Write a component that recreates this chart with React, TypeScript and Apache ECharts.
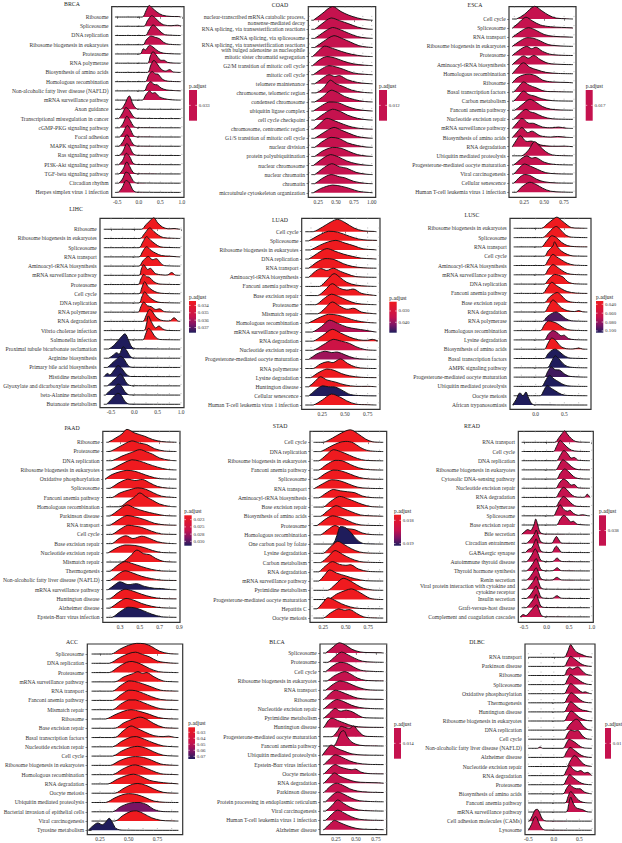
import React, { useEffect, useRef } from "react";
import * as echarts from "echarts";

const FONT = "'Liberation Serif', 'Times New Roman', serif";

// ---------------- DATA ----------------
const BRCA_TERMS = ["Ribosome","Spliceosome","DNA replication","Ribosome biogenesis in eukaryotes","Proteasome","RNA polymerase","Biosynthesis of amino acids","Homologous recombination","Non-alcoholic fatty liver disease (NAFLD)","mRNA surveillance pathway","Axon guidance","Transcriptional misregulation in cancer","cGMP-PKG signaling pathway","Focal adhesion","MAPK signaling pathway","Ras signaling pathway","PI3K-Akt signaling pathway","TGF-beta signaling pathway","Circadian rhythm","Herpes simplex virus 1 infection"];
const BRCA_PADJ = 0.033;
const BRCA_RIDGES = [
  [0.08,0, 0.17,0.7, 0.24,1.25, 0.32,0.95, 0.42,0.55, 0.55,0.2, 0.75,0.06, 0.92,0.05],
  [0.12,0, 0.2,0.6, 0.3,1.15, 0.38,0.9, 0.48,0.45, 0.58,0.15, 0.75,0.06, 0.9,0.12, 0.98,0.02],
  [0.15,0, 0.24,0.6, 0.33,1.15, 0.42,0.8, 0.52,0.35, 0.62,0.08],
  [0.1,0, 0.17,0.5, 0.28,0.95, 0.38,0.8, 0.48,0.65, 0.58,0.25, 0.7,0.05],
  [0.03,0, 0.1,0.55, 0.16,0.45, 0.25,0.95, 0.33,0.75, 0.45,0.3, 0.58,0.08],
  [0.2,0, 0.27,0.8, 0.33,1.25, 0.4,0.9, 0.5,0.35, 0.6,0.3, 0.66,0.1, 0.8,0.02],
  [0.2,0, 0.28,0.8, 0.35,1.3, 0.43,0.9, 0.52,0.35, 0.62,0.15, 0.72,0.3, 0.8,0.05],
  [0.15,0, 0.23,0.7, 0.31,1.1, 0.38,0.85, 0.45,0.8, 0.55,0.25, 0.7,0.04],
  [0.12,0, 0.2,0.65, 0.28,1.0, 0.35,0.7, 0.43,0.65, 0.52,0.3, 0.65,0.1, 0.8,0.04],
  [0.08,0, 0.16,0.55, 0.25,1.0, 0.31,0.75, 0.38,0.8, 0.48,0.35, 0.6,0.15, 0.75,0.04],
  [-0.42,0, -0.34,0.45, -0.22,1.45, -0.14,0.6, -0.06,0.1, 0.05,0.02],
  [-0.47,0, -0.39,0.5, -0.3,1.2, -0.22,0.9, -0.14,0.3, -0.05,0.03],
  [-0.45,0, -0.37,0.45, -0.28,1.25, -0.2,0.8, -0.12,0.15, -0.03,0.02],
  [-0.45,0, -0.36,0.5, -0.27,1.25, -0.2,0.85, -0.12,0.15, -0.03,0.02],
  [-0.46,0, -0.37,0.5, -0.28,1.25, -0.21,0.85, -0.13,0.2, -0.03,0.02],
  [-0.46,0, -0.37,0.45, -0.28,1.3, -0.21,0.9, -0.13,0.2, -0.03,0.02],
  [-0.47,0, -0.38,0.45, -0.29,1.25, -0.21,0.85, -0.13,0.15, -0.03,0.02],
  [-0.46,0, -0.37,0.5, -0.28,1.3, -0.21,0.8, -0.13,0.15, -0.03,0.02],
  [-0.47,0, -0.38,0.45, -0.3,1.2, -0.22,1.0, -0.14,0.3, -0.05,0.03],
  [-0.48,0, -0.39,0.5, -0.3,1.3, -0.22,1.05, -0.15,0.35, -0.06,0.03],
];

const COAD_TERMS = ["nuclear-transcribed mRNA catabolic process,\nnonsense-mediated decay","RNA splicing, via transesterification reactions","mRNA splicing, via spliceosome","RNA splicing, via transesterification reactions\nwith bulged adenosine as nucleophile","mitotic sister chromatid segregation","G2/M transition of mitotic cell cycle","mitotic cell cycle","telomere maintenance","chromosome, telomeric region","condensed chromosome","ubiquitin ligase complex","cell cycle checkpoint","chromosome, centromeric region","G1/S transition of mitotic cell cycle","nuclear division","protein polyubiquitination","nuclear chromosome","nuclear chromatin","chromatin","microtubule cytoskeleton organization"];
const COAD_PADJ = 0.012;
const COAD_RIDGES = [
  [0.18,0, 0.3,0.7, 0.45,1.5, 0.57,0.95, 0.68,0.55, 0.8,0.25, 0.92,0.06],
  [0.2,0, 0.3,0.6, 0.43,1.25, 0.55,0.95, 0.68,0.6, 0.8,0.25, 0.92,0.05],
  [0.2,0, 0.31,0.6, 0.45,1.2, 0.56,0.95, 0.68,0.55, 0.8,0.2, 0.92,0.05],
  [0.2,0, 0.32,0.65, 0.47,1.3, 0.58,1.0, 0.7,0.6, 0.82,0.2, 0.93,0.05],
  [0.17,0, 0.25,0.6, 0.34,1.15, 0.45,0.9, 0.58,0.55, 0.72,0.25, 0.88,0.05],
  [0.17,0, 0.26,0.6, 0.37,1.0, 0.48,0.85, 0.6,0.5, 0.74,0.2, 0.9,0.05],
  [0.18,0, 0.28,0.55, 0.4,1.0, 0.5,0.85, 0.6,0.6, 0.74,0.2, 0.9,0.05],
  [0.2,0, 0.3,0.55, 0.4,1.0, 0.48,0.8, 0.55,0.9, 0.66,0.45, 0.8,0.15, 0.92,0.04],
  [0.22,0, 0.32,0.5, 0.42,1.4, 0.5,1.0, 0.6,0.7, 0.72,0.3, 0.88,0.06],
  [0.2,0, 0.31,0.55, 0.43,1.3, 0.52,1.05, 0.62,0.6, 0.76,0.25, 0.9,0.05],
  [0.18,0, 0.28,0.5, 0.4,1.0, 0.52,0.95, 0.64,0.55, 0.78,0.2, 0.92,0.05],
  [0.2,0, 0.3,0.55, 0.45,1.2, 0.56,0.95, 0.66,0.55, 0.8,0.2, 0.92,0.05],
  [0.18,0, 0.27,0.6, 0.37,1.2, 0.47,0.95, 0.6,0.55, 0.74,0.2, 0.9,0.04],
  [0.2,0, 0.32,0.6, 0.47,1.2, 0.57,0.9, 0.68,0.55, 0.8,0.2, 0.92,0.05],
  [0.2,0, 0.3,0.6, 0.43,1.1, 0.55,0.95, 0.66,0.5, 0.8,0.2, 0.92,0.04],
  [0.2,0, 0.3,0.55, 0.45,1.0, 0.57,0.9, 0.68,0.55, 0.8,0.2, 0.92,0.05],
  [0.18,0, 0.28,0.6, 0.42,1.2, 0.53,0.95, 0.65,0.5, 0.78,0.2, 0.92,0.04],
  [0.2,0, 0.3,0.6, 0.44,1.2, 0.55,0.85, 0.65,0.7, 0.78,0.25, 0.92,0.05],
  [0.2,0, 0.3,0.55, 0.43,1.0, 0.55,0.75, 0.62,0.65, 0.75,0.25, 0.9,0.05],
  [0.18,0, 0.28,0.45, 0.45,0.85, 0.58,0.7, 0.7,0.45, 0.82,0.15, 0.95,0.04],
];

const ESCA_TERMS = ["Cell cycle","Spliceosome","RNA transport","Ribosome biogenesis in eukaryotes","Proteasome","Aminoacyl-tRNA biosynthesis","Homologous recombination","Ribosome","Basal transcription factors","Carbon metabolism","Fanconi anemia pathway","Nucleotide excision repair","mRNA surveillance pathway","Biosynthesis of amino acids","RNA degradation","Ubiquitin mediated proteolysis","Progesterone-mediated oocyte maturation","Viral carcinogenesis","Cellular senescence","Human T-cell leukemia virus 1 infection"];
const ESCA_PADJ = 0.017;
const ESCA_RIDGES = [
  [0.15,0, 0.25,0.5, 0.38,1.4, 0.47,0.9, 0.56,0.4, 0.65,0.1, 0.78,0.03],
  [0.1,0, 0.17,0.5, 0.27,1.2, 0.35,0.8, 0.45,0.35, 0.58,0.15, 0.72,0.08, 0.85,0.03],
  [0.1,0, 0.18,0.5, 0.3,1.05, 0.4,0.75, 0.5,0.3, 0.62,0.1, 0.8,0.03],
  [0.1,0, 0.18,0.5, 0.28,0.95, 0.36,0.9, 0.45,0.6, 0.55,0.2, 0.7,0.05],
  [0.1,0, 0.18,0.55, 0.28,1.0, 0.34,0.75, 0.4,0.9, 0.48,0.45, 0.6,0.1],
  [0.1,0, 0.17,0.55, 0.24,0.95, 0.3,0.7, 0.37,1.0, 0.45,0.55, 0.55,0.15, 0.7,0.03],
  [0.1,0, 0.17,0.7, 0.24,1.2, 0.32,0.7, 0.42,0.4, 0.52,0.15, 0.68,0.03],
  [0.1,0, 0.16,0.55, 0.25,0.9, 0.32,0.95, 0.4,0.75, 0.48,0.3, 0.6,0.1, 0.8,0.04],
  [0.12,0, 0.18,0.6, 0.24,1.1, 0.31,0.75, 0.4,0.45, 0.5,0.1, 0.65,0.03],
  [0.12,0, 0.18,0.6, 0.24,1.1, 0.31,0.7, 0.38,0.55, 0.47,0.25, 0.6,0.05],
  [0.13,0, 0.22,0.6, 0.32,1.2, 0.4,0.85, 0.48,0.4, 0.58,0.12, 0.7,0.03],
  [0.12,0, 0.19,0.6, 0.27,1.1, 0.33,0.8, 0.38,0.7, 0.48,0.3, 0.6,0.06],
  [0.1,0, 0.16,0.6, 0.22,1.1, 0.3,0.6, 0.37,0.55, 0.48,0.15, 0.6,0.08, 0.68,0.15, 0.78,0.03],
  [0.1,0, 0.16,0.6, 0.22,1.1, 0.29,0.55, 0.35,0.7, 0.45,0.2, 0.58,0.06, 0.67,0.12, 0.78,0.03],
  [0.1,0, 0.15,0.7, 0.2,1.2, 0.27,0.6, 0.35,0.6, 0.45,0.2, 0.6,0.05, 0.75,0.06],
  [0.22,0, 0.3,0.6, 0.38,1.55, 0.45,1.0, 0.52,0.45, 0.6,0.1, 0.72,0.02],
  [0.12,0, 0.2,0.6, 0.28,1.0, 0.34,0.75, 0.4,0.8, 0.5,0.3, 0.62,0.06],
  [0.12,0, 0.18,0.6, 0.25,1.1, 0.33,0.85, 0.42,0.5, 0.52,0.15, 0.65,0.03],
  [0.12,0, 0.18,0.55, 0.25,0.95, 0.32,0.85, 0.4,0.45, 0.5,0.15, 0.65,0.03],
  [0.15,0, 0.22,0.6, 0.32,1.1, 0.4,0.85, 0.48,0.45, 0.58,0.12, 0.72,0.03],
];

const LIHC_TERMS = ["Ribosome","Ribosome biogenesis in eukaryotes","Spliceosome","RNA transport","Aminoacyl-tRNA biosynthesis","mRNA surveillance pathway","Proteasome","Cell cycle","DNA replication","RNA polymerase","RNA degradation","Vibrio cholerae infection","Salmonella infection","Proximal tubule bicarbonate reclamation","Arginine biosynthesis","Primary bile acid biosynthesis","Histidine metabolism","Glyoxylate and dicarboxylate metabolism","beta-Alanine metabolism","Butanoate metabolism"];
const LIHC_PADJ = [0.0334,0.0334,0.0334,0.0334,0.0334,0.0334,0.0334,0.0334,0.0334,0.0334,0.0334,0.0334,0.0334,0.0377,0.0377,0.0377,0.0377,0.0377,0.0377,0.0377];
const LIHC_RIDGES = [
  [0.15,0, 0.25,0.5, 0.35,1.0, 0.42,1.25, 0.5,0.7, 0.6,0.25, 0.72,0.05, 0.85,0.08, 0.95,0.02],
  [0.12,0, 0.22,0.55, 0.33,1.15, 0.42,0.75, 0.52,0.35, 0.62,0.1, 0.8,0.03],
  [0.1,0, 0.18,0.6, 0.26,1.2, 0.35,0.8, 0.45,0.4, 0.55,0.1, 0.7,0.03],
  [0.1,0, 0.18,0.6, 0.26,1.1, 0.36,0.7, 0.46,0.4, 0.58,0.15, 0.75,0.08, 0.9,0.02],
  [0.1,0, 0.18,0.55, 0.3,1.05, 0.38,0.7, 0.48,0.8, 0.56,0.35, 0.65,0.05],
  [0.1,0, 0.15,0.7, 0.2,1.15, 0.28,0.65, 0.35,0.75, 0.45,0.2, 0.6,0.05, 0.72,0.05, 0.8,0.3, 0.88,0.03],
  [0.08,0, 0.14,0.6, 0.2,1.1, 0.26,0.85, 0.32,0.8, 0.42,0.3, 0.55,0.05],
  [0.1,0, 0.16,0.65, 0.22,1.3, 0.29,0.8, 0.38,0.4, 0.5,0.12, 0.65,0.03],
  [0.1,0, 0.16,0.65, 0.22,1.2, 0.3,0.75, 0.38,0.4, 0.5,0.1, 0.65,0.03],
  [0.08,0, 0.14,0.6, 0.2,1.1, 0.28,0.7, 0.36,0.6, 0.45,0.3, 0.55,0.35, 0.65,0.05],
  [0.18,0, 0.25,0.6, 0.32,1.3, 0.38,1.1, 0.46,0.5, 0.56,0.15, 0.68,0.05, 0.78,0.1, 0.85,0.4, 0.93,0.05],
  [0.2,0, 0.26,0.7, 0.3,1.6, 0.36,1.0, 0.45,0.3, 0.53,0.5, 0.6,0.2, 0.7,0.02],
  [0.18,0, 0.24,0.6, 0.3,1.25, 0.36,1.0, 0.42,0.5, 0.5,0.1, 0.6,0.02],
  [-0.55,0, -0.42,0.5, -0.3,1.2, -0.2,1.65, -0.12,0.9, -0.05,0.2, 0.05,0.02],
  [-0.55,0, -0.45,0.35, -0.38,0.6, -0.32,0.45, -0.24,1.25, -0.16,0.8, -0.08,0.15, 0.0,0.02],
  [-0.58,0, -0.48,0.45, -0.38,0.9, -0.3,1.2, -0.22,0.9, -0.14,0.25, -0.05,0.02],
  [-0.65,0, -0.58,0.35, -0.52,0.2, -0.42,0.8, -0.35,1.2, -0.27,0.9, -0.18,0.3, -0.08,0.02],
  [-0.58,0, -0.48,0.45, -0.38,0.9, -0.3,1.3, -0.23,0.85, -0.15,0.2, -0.06,0.02],
  [-0.62,0, -0.52,0.5, -0.43,0.8, -0.35,1.2, -0.28,1.0, -0.2,0.35, -0.1,0.02],
  [-0.6,0, -0.5,0.5, -0.42,0.95, -0.35,1.2, -0.27,0.9, -0.2,0.3, -0.1,0.02],
];

const LUAD_TERMS = ["Cell cycle","Spliceosome","Ribosome biogenesis in eukaryotes","DNA replication","RNA transport","Aminoacyl-tRNA biosynthesis","Fanconi anemia pathway","Base excision repair","Proteasome","Mismatch repair","Homologous recombination","mRNA surveillance pathway","RNA degradation","Nucleotide excision repair","Progesterone-mediated oocyte maturation","RNA polymerase","Lysine degradation","Huntington disease","Cellular senescence","Human T-cell leukemia virus 1 infection"];
const LUAD_PADJ = [0.0218,0.0218,0.0218,0.0218,0.0218,0.0218,0.0218,0.0218,0.0218,0.0218,0.0218,0.037,0.0218,0.033,0.039,0.0218,0.0218,0.0218,0.0492,0.0218];
const LUAD_RIDGES = [
  [0.15,0, 0.25,0.5, 0.35,1.1, 0.42,1.35, 0.5,1.0, 0.6,0.4, 0.7,0.1, 0.82,0.03],
  [0.1,0, 0.2,0.55, 0.32,1.05, 0.42,0.95, 0.55,0.5, 0.65,0.2, 0.75,0.08, 0.85,0.05],
  [0.12,0, 0.22,0.5, 0.32,0.9, 0.4,1.05, 0.5,0.75, 0.6,0.45, 0.7,0.12, 0.82,0.03],
  [0.1,0, 0.2,0.65, 0.3,1.15, 0.38,0.9, 0.48,0.55, 0.58,0.3, 0.68,0.1, 0.8,0.03],
  [0.1,0, 0.18,0.6, 0.28,1.05, 0.38,0.95, 0.48,0.5, 0.58,0.2, 0.7,0.05],
  [0.1,0, 0.16,0.55, 0.23,0.95, 0.3,0.75, 0.37,1.0, 0.45,0.65, 0.53,0.35, 0.62,0.08],
  [0.22,0, 0.3,0.7, 0.38,1.4, 0.45,0.95, 0.52,0.45, 0.62,0.15, 0.75,0.03],
  [0.2,0, 0.28,0.6, 0.36,1.3, 0.44,0.8, 0.52,0.6, 0.6,0.7, 0.68,0.25, 0.8,0.05],
  [0.18,0, 0.26,0.6, 0.35,1.15, 0.43,0.9, 0.52,0.5, 0.62,0.15, 0.75,0.03],
  [0.2,0, 0.28,0.6, 0.36,1.3, 0.44,0.85, 0.52,0.5, 0.6,0.6, 0.68,0.2, 0.8,0.03],
  [0.1,0, 0.2,0.5, 0.32,0.95, 0.42,0.85, 0.52,0.55, 0.62,0.25, 0.75,0.05],
  [0.14,0, 0.24,0.6, 0.33,1.3, 0.42,0.95, 0.52,0.55, 0.62,0.35, 0.72,0.2, 0.82,0.03],
  [0.15,0, 0.25,0.6, 0.36,1.3, 0.45,0.9, 0.55,0.45, 0.65,0.15, 0.75,0.1, 0.8,0.2, 0.86,0.03],
  [0.15,0, 0.26,0.6, 0.37,1.2, 0.46,1.0, 0.55,0.75, 0.62,0.4, 0.72,0.08],
  [0.1,0, 0.18,0.55, 0.28,0.9, 0.35,0.75, 0.42,0.8, 0.5,0.5, 0.6,0.15, 0.72,0.03],
  [0.15,0, 0.23,0.5, 0.31,0.75, 0.37,0.65, 0.45,1.05, 0.53,0.55, 0.62,0.15, 0.72,0.03],
  [0.12,0, 0.2,0.5, 0.3,0.95, 0.38,0.8, 0.46,0.45, 0.55,0.2, 0.68,0.04],
  [0.1,0, 0.17,0.6, 0.23,1.1, 0.3,0.75, 0.4,0.5, 0.5,0.2, 0.62,0.05, 0.75,0.05],
  [0.1,0, 0.17,0.6, 0.25,1.1, 0.32,1.0, 0.4,0.95, 0.48,0.55, 0.56,0.15, 0.68,0.03],
  [0.15,0, 0.25,0.55, 0.35,1.2, 0.44,0.9, 0.52,0.45, 0.62,0.1, 0.75,0.03],
];

const LUSC_TERMS = ["Ribosome biogenesis in eukaryotes","Spliceosome","RNA transport","Cell cycle","Aminoacyl-tRNA biosynthesis","mRNA surveillance pathway","DNA replication","Fanconi anemia pathway","Base excision repair","RNA degradation","RNA polymerase","Homologous recombination","Lysine degradation","Biosynthesis of amino acids","Basal transcription factors","AMPK signaling pathway","Progesterone-mediated oocyte maturation","Ubiquitin mediated proteolysis","Oocyte meiosis","African trypanosomiasis"];
const LUSC_PADJ = [0.0326,0.0326,0.0326,0.0326,0.0326,0.0326,0.0326,0.0326,0.0326,0.0326,0.095,0.0326,0.078,0.0326,0.104,0.104,0.098,0.104,0.104,0.104];
const LUSC_RIDGES = [
  [0.1,0, 0.2,0.45, 0.3,0.95, 0.37,1.2, 0.45,0.85, 0.55,0.35, 0.62,0.08, 0.75,0.02],
  [0.12,0, 0.22,0.5, 0.3,1.0, 0.36,1.2, 0.44,0.8, 0.52,0.3, 0.62,0.05],
  [0.1,0, 0.18,0.55, 0.28,1.2, 0.36,1.0, 0.45,0.5, 0.55,0.15, 0.68,0.03],
  [0.15,0, 0.22,0.6, 0.3,1.1, 0.33,1.55, 0.38,1.0, 0.45,0.55, 0.55,0.2, 0.65,0.03],
  [0.15,0, 0.22,0.6, 0.3,1.2, 0.37,0.9, 0.45,0.6, 0.55,0.25, 0.68,0.04],
  [0.15,0, 0.22,0.6, 0.3,1.1, 0.37,0.85, 0.45,0.5, 0.55,0.15, 0.68,0.03],
  [0.15,0, 0.23,0.55, 0.33,1.05, 0.4,0.95, 0.48,0.75, 0.56,0.25, 0.68,0.03],
  [0.12,0, 0.2,0.6, 0.28,1.2, 0.36,0.85, 0.45,0.5, 0.55,0.2, 0.7,0.04],
  [0.15,0, 0.24,0.6, 0.33,1.0, 0.38,1.1, 0.46,0.7, 0.55,0.2, 0.68,0.03],
  [0.15,0, 0.22,0.6, 0.3,1.3, 0.37,0.95, 0.45,0.45, 0.55,0.15, 0.68,0.05, 0.75,0.15, 0.82,0.02],
  [0.12,0, 0.2,0.5, 0.3,0.9, 0.36,1.0, 0.44,0.7, 0.52,0.3, 0.62,0.06],
  [0.08,0, 0.15,0.6, 0.22,1.05, 0.3,0.95, 0.38,0.75, 0.46,0.4, 0.55,0.12, 0.68,0.03],
  [0.15,0, 0.22,0.6, 0.3,1.0, 0.37,0.8, 0.44,0.45, 0.5,0.5, 0.57,0.15, 0.68,0.03],
  [0.15,0, 0.21,0.6, 0.28,1.2, 0.35,0.95, 0.42,0.4, 0.5,0.1, 0.65,0.03, 0.75,0.12, 0.82,0.02],
  [0.15,0, 0.22,0.55, 0.3,0.95, 0.35,1.0, 0.42,0.7, 0.5,0.3, 0.6,0.05],
  [0.2,0, 0.27,0.6, 0.34,1.3, 0.4,1.0, 0.47,0.5, 0.55,0.15, 0.68,0.03],
  [0.15,0, 0.21,0.6, 0.27,1.1, 0.34,0.8, 0.42,0.75, 0.5,0.35, 0.6,0.08],
  [0.1,0, 0.17,0.6, 0.24,1.2, 0.32,0.8, 0.4,0.5, 0.5,0.15, 0.62,0.03],
  [0.08,0, 0.14,0.55, 0.2,1.1, 0.27,0.8, 0.35,0.5, 0.45,0.15, 0.55,0.03],
  [-0.4,0, -0.34,0.6, -0.28,1.3, -0.22,1.0, -0.17,1.4, -0.12,0.7, -0.06,0.1, 0.02,0.02],
];

const PAAD_TERMS = ["Ribosome","Proteasome","DNA replication","Ribosome biogenesis in eukaryotes","Oxidative phosphorylation","Spliceosome","Fanconi anemia pathway","Homologous recombination","Parkinson disease","RNA transport","Cell cycle","Base excision repair","Nucleotide excision repair","Mismatch repair","Thermogenesis","Non-alcoholic fatty liver disease (NAFLD)","mRNA surveillance pathway","Huntington disease","Alzheimer disease","Epstein-Barr virus infection"];
const PAAD_PADJ = [0.021,0.021,0.021,0.021,0.021,0.021,0.021,0.021,0.021,0.021,0.021,0.021,0.021,0.021,0.021,0.021,0.0315,0.021,0.021,0.0315];
const PAAD_RIDGES = [
  [0.18,0, 0.27,0.55, 0.32,0.9, 0.37,1.4, 0.45,1.0, 0.55,0.65, 0.63,0.3, 0.72,0.08, 0.82,0.02],
  [0.2,0, 0.3,0.55, 0.42,1.15, 0.5,0.9, 0.57,0.75, 0.65,0.3, 0.75,0.05],
  [0.22,0, 0.32,0.5, 0.42,0.9, 0.5,1.2, 0.57,0.95, 0.63,0.7, 0.7,0.3, 0.8,0.05],
  [0.2,0, 0.3,0.55, 0.42,1.1, 0.5,0.95, 0.58,0.65, 0.68,0.3, 0.78,0.05],
  [0.15,0, 0.22,0.5, 0.3,0.8, 0.37,0.95, 0.45,0.85, 0.52,0.6, 0.6,0.3, 0.7,0.05],
  [0.2,0, 0.28,0.55, 0.38,1.0, 0.45,0.85, 0.53,0.95, 0.6,0.6, 0.68,0.2, 0.78,0.03],
  [0.22,0, 0.3,0.5, 0.4,0.85, 0.48,1.05, 0.56,0.9, 0.64,0.5, 0.72,0.15, 0.82,0.03],
  [0.3,0, 0.38,0.6, 0.44,1.0, 0.5,1.5, 0.56,1.1, 0.63,0.7, 0.7,0.3, 0.8,0.04],
  [0.2,0, 0.28,0.6, 0.37,1.2, 0.45,0.85, 0.55,0.5, 0.65,0.25, 0.75,0.05],
  [0.2,0, 0.28,0.55, 0.37,1.05, 0.45,0.9, 0.55,0.6, 0.65,0.2, 0.75,0.04],
  [0.22,0, 0.3,0.55, 0.38,1.0, 0.45,0.9, 0.52,0.75, 0.62,0.35, 0.72,0.05],
  [0.22,0, 0.29,0.55, 0.36,0.85, 0.43,0.55, 0.52,0.8, 0.6,0.55, 0.68,0.2, 0.78,0.03],
  [0.18,0, 0.26,0.5, 0.35,0.85, 0.45,0.8, 0.55,0.55, 0.63,0.25, 0.72,0.04],
  [0.32,0, 0.4,0.6, 0.47,1.3, 0.54,0.9, 0.6,0.8, 0.66,0.4, 0.75,0.05],
  [0.2,0, 0.27,0.6, 0.35,1.05, 0.42,0.85, 0.52,0.5, 0.62,0.2, 0.72,0.04],
  [0.2,0, 0.27,0.6, 0.35,1.05, 0.43,0.8, 0.52,0.45, 0.62,0.2, 0.72,0.04],
  [0.18,0, 0.25,0.55, 0.3,0.85, 0.38,0.55, 0.47,0.65, 0.55,0.35, 0.65,0.15, 0.72,0.12, 0.8,0.02],
  [0.2,0, 0.27,0.6, 0.35,1.05, 0.43,0.85, 0.52,0.5, 0.62,0.2, 0.72,0.04],
  [0.2,0, 0.28,0.6, 0.36,1.05, 0.44,0.85, 0.52,0.5, 0.62,0.2, 0.72,0.04],
  [0.22,0, 0.3,0.6, 0.38,1.1, 0.46,1.0, 0.54,0.7, 0.62,0.35, 0.72,0.06],
];

const STAD_TERMS = ["Cell cycle","DNA replication","Ribosome biogenesis in eukaryotes","Fanconi anemia pathway","Spliceosome","RNA transport","Aminoacyl-tRNA biosynthesis","Base excision repair","Biosynthesis of amino acids","Proteasome","Homologous recombination","One carbon pool by folate","Lysine degradation","Carbon metabolism","RNA degradation","mRNA surveillance pathway","Pyrimidine metabolism","Progesterone-mediated oocyte maturation","Hepatitis C","Oocyte meiosis"];
const STAD_PADJ = [0.01776,0.01776,0.01776,0.01776,0.01776,0.01776,0.01776,0.01776,0.01776,0.01776,0.01776,0.01909,0.01776,0.01776,0.01776,0.01776,0.01776,0.01776,0.01776,0.01776];
const STAD_RIDGES = [
  [0.25,0, 0.35,0.45, 0.45,1.0, 0.55,1.35, 0.63,0.95, 0.72,0.35, 0.8,0.05],
  [0.22,0, 0.32,0.5, 0.42,0.95, 0.5,1.1, 0.58,0.95, 0.66,0.45, 0.75,0.1],
  [0.2,0, 0.28,0.6, 0.36,1.2, 0.44,1.0, 0.54,0.6, 0.63,0.25, 0.72,0.05],
  [0.2,0, 0.28,0.55, 0.38,1.05, 0.46,1.0, 0.55,0.6, 0.64,0.25, 0.75,0.05],
  [0.18,0, 0.26,0.55, 0.36,1.0, 0.45,0.9, 0.55,0.55, 0.65,0.2, 0.75,0.05],
  [0.15,0, 0.24,0.5, 0.34,0.95, 0.43,0.85, 0.53,0.5, 0.63,0.15, 0.75,0.03],
  [0.2,0, 0.28,0.5, 0.36,0.9, 0.44,0.75, 0.52,0.65, 0.6,0.55, 0.68,0.2, 0.78,0.03],
  [0.25,0, 0.33,0.6, 0.43,1.15, 0.52,0.9, 0.6,0.6, 0.68,0.3, 0.78,0.05],
  [0.22,0, 0.3,0.6, 0.39,1.15, 0.47,0.85, 0.56,0.5, 0.66,0.15, 0.76,0.06, 0.85,0.03],
  [0.18,0, 0.26,0.6, 0.35,1.05, 0.44,0.85, 0.53,0.5, 0.62,0.15, 0.72,0.03],
  [0.22,0, 0.3,0.55, 0.38,1.0, 0.45,0.7, 0.52,0.65, 0.6,0.55, 0.68,0.2, 0.78,0.03],
  [0.35,0, 0.4,0.9, 0.44,1.9, 0.5,1.75, 0.56,1.2, 0.62,0.5, 0.68,0.1, 0.75,0.02],
  [0.25,0, 0.32,0.6, 0.41,1.3, 0.48,0.95, 0.56,0.5, 0.65,0.15, 0.75,0.03],
  [0.22,0, 0.3,0.6, 0.38,1.3, 0.46,0.9, 0.55,0.45, 0.65,0.12, 0.75,0.03],
  [0.2,0, 0.27,0.6, 0.35,1.1, 0.43,0.8, 0.5,0.7, 0.56,0.75, 0.64,0.3, 0.75,0.04],
  [0.2,0, 0.26,0.6, 0.32,1.2, 0.4,0.85, 0.5,0.55, 0.6,0.25, 0.72,0.04],
  [0.3,0, 0.38,0.6, 0.47,1.3, 0.55,1.0, 0.62,0.6, 0.7,0.2, 0.8,0.03],
  [0.3,0, 0.4,0.6, 0.5,1.0, 0.56,1.15, 0.63,0.9, 0.7,0.5, 0.78,0.1],
  [0.18,0, 0.24,0.6, 0.3,1.2, 0.37,0.95, 0.45,0.55, 0.55,0.2, 0.65,0.04],
  [0.25,0, 0.33,0.55, 0.42,1.0, 0.48,0.85, 0.55,0.9, 0.62,0.5, 0.7,0.12, 0.8,0.02],
];

const READ_TERMS = ["RNA transport","Cell cycle","DNA replication","Ribosome biogenesis in eukaryotes","Cytosolic DNA-sensing pathway","Nucleotide excision repair","RNA degradation","RNA polymerase","Spliceosome","Base excision repair","Bile secretion","Circadian entrainment","GABAergic synapse","Autoimmune thyroid disease","Thyroid hormone synthesis","Renin secretion","Viral protein interaction with cytokine and\ncytokine receptor","Insulin secretion","Graft-versus-host disease","Complement and coagulation cascades"];
const READ_PADJ = 0.038;
const READ_RIDGES = [
  [0.18,0, 0.28,0.55, 0.35,1.0, 0.4,1.25, 0.46,0.9, 0.55,0.4, 0.65,0.08, 0.8,0.02],
  [0.15,0, 0.22,0.55, 0.3,1.2, 0.37,0.9, 0.45,0.5, 0.55,0.15, 0.7,0.02],
  [0.22,0, 0.3,0.55, 0.38,1.1, 0.46,0.8, 0.54,0.3, 0.62,0.35, 0.7,0.05],
  [0.2,0, 0.28,0.55, 0.36,1.1, 0.44,0.85, 0.52,0.5, 0.6,0.2, 0.7,0.03],
  [0.22,0, 0.3,0.6, 0.4,1.1, 0.48,0.85, 0.56,0.45, 0.64,0.15, 0.75,0.03],
  [0.2,0, 0.28,0.55, 0.37,1.0, 0.45,0.8, 0.54,0.35, 0.62,0.4, 0.7,0.05],
  [0.2,0, 0.28,0.55, 0.37,1.1, 0.45,0.85, 0.53,0.4, 0.62,0.1, 0.75,0.02, 0.85,0.05, 0.9,0.35, 0.96,0.03],
  [0.2,0, 0.28,0.55, 0.37,1.1, 0.45,0.85, 0.53,0.45, 0.62,0.1, 0.72,0.02],
  [0.15,0, 0.22,0.55, 0.3,1.2, 0.38,0.7, 0.46,0.5, 0.52,0.6, 0.6,0.25, 0.7,0.05, 0.8,0.12, 0.9,0.02],
  [0.22,0, 0.3,0.6, 0.38,1.05, 0.45,0.8, 0.53,0.35, 0.6,0.4, 0.68,0.08],
  [-0.55,0, -0.48,0.3, -0.42,0.5, -0.35,0.4, -0.28,1.0, -0.24,1.65, -0.19,0.9, -0.14,0.2, -0.05,0.02],
  [-0.45,0, -0.36,0.4, -0.27,1.0, -0.23,1.45, -0.18,0.8, -0.12,0.15, -0.02,0.02, 0.12,0.03, 0.18,0.5, 0.22,0.75, 0.27,0.4, 0.34,0.02],
  [-0.47,0, -0.4,0.35, -0.33,0.5, -0.27,1.1, -0.23,1.5, -0.18,0.8, -0.12,0.15, -0.02,0.02, 0.12,0.03, 0.18,0.5, 0.22,0.7, 0.27,0.4, 0.34,0.02],
  [-0.45,0, -0.37,0.4, -0.3,1.0, -0.25,1.4, -0.19,0.9, -0.13,0.2, -0.03,0.02, 0.14,0.03, 0.2,0.3, 0.24,0.4, 0.3,0.1, 0.36,0.02],
  [-0.45,0, -0.36,0.4, -0.28,1.0, -0.23,1.35, -0.18,0.85, -0.12,0.15, -0.02,0.02, 0.14,0.03, 0.2,0.25, 0.24,0.35, 0.3,0.08, 0.36,0.02],
  [-0.45,0, -0.36,0.4, -0.28,1.0, -0.23,1.35, -0.18,0.85, -0.12,0.15, -0.02,0.02, 0.14,0.03, 0.2,0.25, 0.24,0.3, 0.3,0.08, 0.36,0.02],
  [-0.45,0, -0.36,0.45, -0.28,1.0, -0.23,1.4, -0.18,0.85, -0.12,0.15, -0.02,0.02],
  [-0.45,0, -0.36,0.4, -0.28,1.0, -0.23,1.35, -0.18,0.85, -0.12,0.15, -0.02,0.02, 0.14,0.03, 0.2,0.25, 0.24,0.3, 0.3,0.08, 0.36,0.02],
  [-0.45,0, -0.36,0.45, -0.28,1.0, -0.23,1.45, -0.18,0.85, -0.12,0.15, -0.02,0.02],
  [-0.58,0, -0.52,0.25, -0.45,0.15, -0.36,0.6, -0.28,1.05, -0.22,1.3, -0.17,0.8, -0.11,0.15, -0.02,0.02],
];

const ACC_TERMS = ["Spliceosome","DNA replication","Proteasome","mRNA surveillance pathway","RNA transport","Fanconi anemia pathway","Mismatch repair","Ribosome","Base excision repair","Basal transcription factors","Nucleotide excision repair","Cell cycle","Ribosome biogenesis in eukaryotes","Homologous recombination","RNA degradation","Oocyte meiosis","Ubiquitin mediated proteolysis","Bacterial invasion of epithelial cells","Viral carcinogenesis","Tyrosine metabolism"];
const ACC_PADJ = [0.0217,0.0217,0.0217,0.0217,0.0217,0.0217,0.0217,0.0217,0.0217,0.0217,0.0217,0.0217,0.0217,0.0217,0.0217,0.0217,0.0217,0.062,0.0217,0.0745];
const ACC_RIDGES = [
  [0.35,0, 0.42,0.5, 0.5,0.95, 0.57,1.15, 0.64,1.1, 0.7,0.8, 0.77,0.3, 0.85,0.05],
  [0.33,0, 0.42,0.6, 0.5,1.05, 0.56,1.2, 0.62,0.95, 0.68,0.7, 0.75,0.25, 0.85,0.05],
  [0.33,0, 0.41,0.6, 0.48,1.1, 0.53,1.2, 0.6,0.95, 0.68,0.45, 0.76,0.1, 0.85,0.02],
  [0.38,0, 0.46,0.55, 0.53,0.85, 0.58,1.1, 0.62,0.9, 0.66,1.0, 0.72,0.55, 0.8,0.1, 0.88,0.02],
  [0.36,0, 0.43,0.6, 0.5,1.1, 0.55,1.05, 0.62,0.8, 0.7,0.45, 0.78,0.1, 0.88,0.02],
  [0.36,0, 0.43,0.6, 0.5,1.1, 0.56,1.05, 0.63,0.75, 0.7,0.4, 0.78,0.1, 0.88,0.02],
  [0.36,0, 0.43,0.6, 0.5,1.05, 0.56,1.05, 0.63,0.75, 0.7,0.4, 0.78,0.1, 0.88,0.02],
  [0.3,0, 0.38,0.45, 0.46,0.85, 0.52,1.0, 0.6,0.8, 0.68,0.5, 0.76,0.15, 0.85,0.02],
  [0.38,0, 0.46,0.6, 0.54,1.0, 0.6,1.2, 0.66,0.95, 0.72,0.5, 0.8,0.1, 0.88,0.02],
  [0.38,0, 0.45,0.7, 0.52,1.25, 0.57,1.0, 0.64,0.6, 0.72,0.2, 0.8,0.1, 0.85,0.15, 0.9,0.02],
  [0.36,0, 0.44,0.6, 0.52,1.05, 0.57,1.1, 0.64,0.8, 0.72,0.4, 0.8,0.1, 0.88,0.02],
  [0.36,0, 0.44,0.55, 0.52,0.95, 0.58,1.05, 0.65,0.85, 0.72,0.45, 0.8,0.1, 0.88,0.02],
  [0.34,0, 0.42,0.5, 0.5,0.85, 0.56,0.95, 0.63,0.85, 0.7,0.55, 0.78,0.15, 0.88,0.02],
  [0.36,0, 0.44,0.55, 0.51,0.95, 0.56,1.05, 0.63,0.8, 0.7,0.45, 0.78,0.1, 0.88,0.02],
  [0.32,0, 0.4,0.5, 0.48,0.9, 0.54,1.05, 0.6,0.85, 0.68,0.4, 0.76,0.2, 0.85,0.08, 0.92,0.02],
  [0.38,0, 0.46,0.55, 0.53,0.95, 0.58,1.05, 0.65,0.85, 0.72,0.45, 0.8,0.1, 0.88,0.02],
  [0.3,0, 0.38,0.5, 0.45,0.85, 0.5,0.95, 0.57,0.85, 0.65,0.5, 0.72,0.15, 0.82,0.02],
  [0.36,0, 0.43,0.55, 0.5,0.9, 0.55,1.0, 0.6,1.0, 0.66,0.75, 0.72,0.25, 0.8,0.02],
  [0.38,0, 0.45,0.6, 0.52,1.05, 0.57,1.1, 0.63,0.8, 0.7,0.35, 0.78,0.08, 0.86,0.02],
  [0.15,0, 0.19,0.5, 0.23,0.8, 0.27,0.6, 0.3,0.9, 0.33,1.3, 0.36,0.8, 0.39,0.2, 0.45,0.02],
];

const BLCA_TERMS = ["Spliceosome","Proteasome","Cell cycle","Ribosome biogenesis in eukaryotes","RNA transport","Ribosome","Nucleotide excision repair","Pyrimidine metabolism","Huntington disease","Progesterone-mediated oocyte maturation","Fanconi anemia pathway","Ubiquitin mediated proteolysis","Epstein-Barr virus infection","Oocyte meiosis","RNA degradation","Parkinson disease","Protein processing in endoplasmic reticulum","Viral carcinogenesis","Human T-cell leukemia virus 1 infection","Alzheimer disease"];
const BLCA_PADJ = 0.014;
const BLCA_RIDGES = [
  [0.12,0, 0.2,0.55, 0.29,1.1, 0.37,0.85, 0.45,0.4, 0.55,0.12, 0.65,0.05, 0.8,0.03],
  [0.15,0, 0.23,0.55, 0.32,1.1, 0.4,0.8, 0.48,0.45, 0.58,0.12, 0.7,0.03],
  [0.12,0, 0.2,0.55, 0.3,1.0, 0.38,0.9, 0.47,0.5, 0.56,0.15, 0.7,0.03],
  [0.14,0, 0.22,0.5, 0.3,0.85, 0.36,1.0, 0.44,0.7, 0.52,0.3, 0.62,0.06],
  [0.12,0, 0.2,0.55, 0.3,1.0, 0.38,0.85, 0.46,0.55, 0.55,0.25, 0.65,0.05],
  [0.1,0, 0.17,0.6, 0.24,1.0, 0.32,0.8, 0.42,0.45, 0.52,0.15, 0.65,0.04, 0.8,0.02],
  [0.1,0, 0.18,0.6, 0.26,1.0, 0.34,0.8, 0.44,0.4, 0.54,0.15, 0.68,0.03],
  [0.1,0, 0.17,0.55, 0.24,1.05, 0.3,0.75, 0.38,0.85, 0.46,0.65, 0.53,0.3, 0.6,0.05],
  [0.1,0, 0.15,0.7, 0.2,1.0, 0.27,0.75, 0.36,0.45, 0.46,0.15, 0.6,0.03],
  [0.2,0, 0.26,0.5, 0.31,1.1, 0.36,1.0, 0.42,0.9, 0.47,1.15, 0.53,0.6, 0.6,0.1, 0.7,0.02],
  [0.22,0, 0.27,0.7, 0.31,1.5, 0.35,1.65, 0.39,1.0, 0.45,0.4, 0.55,0.08, 0.68,0.02],
  [0.08,0, 0.14,0.7, 0.19,1.1, 0.26,0.75, 0.35,0.45, 0.45,0.15, 0.6,0.03],
  [0.1,0, 0.17,0.6, 0.24,1.05, 0.32,0.8, 0.42,0.4, 0.52,0.15, 0.65,0.03],
  [0.1,0, 0.17,0.6, 0.24,1.0, 0.3,0.75, 0.38,0.55, 0.44,0.45, 0.5,0.5, 0.56,0.2, 0.65,0.04],
  [0.1,0, 0.17,0.65, 0.23,1.1, 0.3,0.75, 0.4,0.4, 0.5,0.15, 0.62,0.08, 0.78,0.04],
  [0.1,0, 0.17,0.6, 0.25,1.0, 0.33,0.8, 0.42,0.4, 0.52,0.15, 0.65,0.04],
  [0.12,0, 0.19,0.6, 0.27,1.05, 0.35,0.8, 0.44,0.4, 0.54,0.12, 0.68,0.03],
  [0.12,0, 0.2,0.6, 0.27,1.2, 0.34,0.85, 0.43,0.4, 0.53,0.12, 0.68,0.03],
  [0.12,0, 0.19,0.6, 0.27,1.1, 0.35,0.8, 0.44,0.4, 0.54,0.12, 0.68,0.03],
  [0.1,0, 0.17,0.6, 0.23,1.0, 0.3,0.75, 0.4,0.4, 0.5,0.15, 0.6,0.05, 0.75,0.02],
];

const DLBC_TERMS = ["RNA transport","Parkinson disease","Ribosome","Spliceosome","Oxidative phosphorylation","Thermogenesis","Huntington disease","Ribosome biogenesis in eukaryotes","DNA replication","Cell cycle","Non-alcoholic fatty liver disease (NAFLD)","Alzheimer disease","Nucleotide excision repair","RNA degradation","Proteasome","Biosynthesis of amino acids","Fanconi anemia pathway","mRNA surveillance pathway","Cell adhesion molecules (CAMs)","Lysosome"];
const DLBC_PADJ = 0.01;
const DLBC_RIDGES = [
  [0.2,0, 0.27,0.6, 0.33,1.4, 0.38,1.0, 0.45,0.55, 0.55,0.3, 0.65,0.08, 0.75,0.02],
  [0.2,0, 0.27,0.6, 0.33,1.1, 0.4,0.85, 0.48,0.5, 0.56,0.2, 0.65,0.05],
  [0.2,0, 0.26,0.6, 0.31,0.85, 0.37,0.7, 0.47,0.95, 0.55,0.55, 0.63,0.15, 0.72,0.03],
  [0.2,0, 0.27,0.6, 0.33,1.1, 0.4,0.85, 0.48,0.55, 0.56,0.25, 0.65,0.05],
  [0.2,0, 0.27,0.6, 0.33,1.1, 0.4,0.85, 0.48,0.45, 0.56,0.15, 0.62,0.2, 0.7,0.03],
  [0.2,0, 0.27,0.6, 0.34,1.1, 0.41,0.85, 0.49,0.45, 0.57,0.15, 0.65,0.03],
  [0.2,0, 0.27,0.6, 0.33,1.1, 0.4,0.85, 0.48,0.45, 0.56,0.2, 0.62,0.15, 0.7,0.03],
  [0.2,0, 0.27,0.6, 0.34,1.1, 0.41,0.85, 0.49,0.45, 0.57,0.2, 0.66,0.05, 0.75,0.02],
  [0.22,0, 0.3,0.55, 0.38,1.0, 0.44,1.2, 0.5,1.0, 0.56,0.55, 0.65,0.1, 0.72,0.02],
  [0.2,0, 0.27,0.6, 0.33,1.0, 0.4,0.9, 0.48,0.95, 0.55,0.45, 0.63,0.08],
  [-0.32,0, -0.27,0.15, -0.22,0.0, 0.18,0, 0.25,0.6, 0.3,1.0, 0.36,0.85, 0.44,0.55, 0.52,0.2, 0.6,0.04],
  [0.18,0, 0.25,0.6, 0.32,1.1, 0.39,0.85, 0.47,0.5, 0.55,0.2, 0.65,0.04],
  [0.25,0, 0.32,0.6, 0.4,1.2, 0.47,0.95, 0.54,0.5, 0.62,0.15, 0.72,0.03],
  [0.18,0, 0.25,0.6, 0.31,1.1, 0.38,0.7, 0.46,0.45, 0.53,0.55, 0.6,0.3, 0.67,0.35, 0.74,0.05],
  [0.18,0, 0.25,0.6, 0.31,1.1, 0.38,0.8, 0.46,0.45, 0.55,0.15, 0.65,0.03],
  [0.18,0, 0.25,0.6, 0.31,1.0, 0.38,0.7, 0.45,0.55, 0.52,0.55, 0.6,0.2, 0.7,0.03],
  [0.22,0, 0.28,0.7, 0.33,1.25, 0.38,1.0, 0.45,0.5, 0.53,0.15, 0.62,0.03],
  [0.24,0, 0.29,0.8, 0.33,1.65, 0.37,1.1, 0.43,0.5, 0.5,0.35, 0.57,0.25, 0.65,0.03],
  [-0.48,0, -0.42,0.6, -0.37,1.2, -0.32,1.3, -0.27,0.8, -0.22,0.2, -0.15,0.02],
  [-0.5,0, -0.44,0.6, -0.39,1.3, -0.35,1.5, -0.3,0.9, -0.24,0.25, -0.16,0.02],
];

// x-axis ranges, tick values/labels, gridline positions
const X_RANGES = [[-0.63,1.05],[0.11,1.056],[0.058,0.9],[-0.736,1.064],[0.023,0.886],[-0.448,0.965],[0.126,0.907],[0.102,0.954],[-0.626,1.035],[0.139,0.971],[0.05,0.884],[-0.565,0.808]];
const X_TICKS = [[-0.5,0,0.5,1],[0.25,0.5,0.75,1],[0.25,0.5,0.75],[-0.5,0,0.5,1],[0.25,0.5,0.75],[0,0.5],[0.3,0.5,0.7,0.9],[0.25,0.5,0.75],[-0.5,0,0.5,1],[0.25,0.5,0.75],[0.25,0.5,0.75],[-0.5,0,0.5]];
const X_LABELS = [["-0.5","0.0","0.5","1.0"],["0.25","0.50","0.75","1.00"],["0.25","0.50","0.75"],["-0.5","0.0","0.5","1.0"],["0.25","0.50","0.75"],["0.0","0.5"],["0.3","0.5","0.7","0.9"],["0.25","0.50","0.75"],["-0.5","0.0","0.5","1.0"],["0.25","0.50","0.75"],["0.25","0.50","0.75"],["-0.5","0.0","0.5"]];
const X_GRID = [
  [-0.5,-0.25,0,0.25,0.5,0.75,1],
  [0.125,0.25,0.375,0.5,0.625,0.75,0.875,1],
  [0.125,0.25,0.375,0.5,0.625,0.75,0.875],
  [-0.5,-0.25,0,0.25,0.5,0.75,1],
  [0.125,0.25,0.375,0.5,0.625,0.75,0.875],
  [-0.25,0,0.25,0.5,0.75],
  [0.2,0.3,0.4,0.5,0.6,0.7,0.8,0.9],
  [0.125,0.25,0.375,0.5,0.625,0.75,0.875],
  [-0.5,-0.25,0,0.25,0.5,0.75,1],
  [0.25,0.375,0.5,0.625,0.75,0.875],
  [0.125,0.25,0.375,0.5,0.625,0.75,0.875],
  [-0.5,-0.25,0,0.25,0.5,0.75],
];

// colour-bar ticks
const LEG_TICKS = [[0.033],[0.012],[0.017],[0.034,0.035,0.036,0.037],[0.03,0.04],[0.04,0.06,0.08,0.1],[0.0225,0.025,0.0275,0.03],[0.018,0.019],[0.038],[0.03,0.04,0.05,0.06,0.07],[0.014],[0.01]];
const LEG_LABELS = [["0.033"],["0.012"],["0.017"],["0.034","0.035","0.036","0.037"],["0.030","0.040"],["0.040","0.060","0.080","0.100"],["0.023","0.025","0.028","0.030"],["0.018","0.019"],["0.038"],["0.03","0.04","0.05","0.06","0.07"],["0.014"],["0.01"]];

// ---------------- LAYOUT ----------------
const NAMES = ["BRCA","COAD","ESCA","LIHC","LUAD","LUSC","PAAD","STAD","READ","ACC","BLCA","DLBC"];
const BOXES = [
  [111.7,6.7,72.3,190.6],[308.3,6.7,67.4,190.6],[509,6.7,67,190.6],
  [100,218.3,84,189.4],[301.7,218.3,78.3,191],[510,218.3,81,191],
  [99.3,431.3,80.7,191],[310,431.3,76.7,191],[518.3,431.3,75,191],
  [87.3,644,95.4,190.7],[320,644,66.7,190.7],[525,644,70,190.7],
];
const Y_RANGES = [[-1.12,19.53],[-1.49,19.5],[-1.35,19.55],[-1.19,19.37],[-1.47,19.47],[-1.075,19.46],[-1.19,19.54],[-1.19,19.46],[-1.2,19.59],[-1.08,19.47],[-0.97,19.54],[-1.46,19.49]];
const TITLE_XY = [[72,3.5],[280,4.5],[475,5],[76,208.5],[280,220],[472,215],[72,427.5],[280,425.5],[472,425.5],[72,641.5],[277,641.5],[477,641.5]];
const LEG_BOXES = [
  [189,90,8,30.7],[379,90,8,30.7],[585.7,90,7,30.7],
  [189,301,7,31.7],[389.3,301.7,7.4,31],[596,301,7.3,31.7],
  [184.3,515.3,7.4,30.4],[394,514.7,7,31],[599,515.3,7,30.4],
  [188.3,727.3,6.7,31.7],[394,728,7,30.7],[605,728,6,30.7],
];

const TERMS = [BRCA_TERMS,COAD_TERMS,ESCA_TERMS,LIHC_TERMS,LUAD_TERMS,LUSC_TERMS,PAAD_TERMS,STAD_TERMS,READ_TERMS,ACC_TERMS,BLCA_TERMS,DLBC_TERMS];
const PADJS: any[] = [BRCA_PADJ,COAD_PADJ,ESCA_PADJ,LIHC_PADJ,LUAD_PADJ,LUSC_PADJ,PAAD_PADJ,STAD_PADJ,READ_PADJ,ACC_PADJ,BLCA_PADJ,DLBC_PADJ];
const RIDGES = [BRCA_RIDGES,COAD_RIDGES,ESCA_RIDGES,LIHC_RIDGES,LUAD_RIDGES,LUSC_RIDGES,PAAD_RIDGES,STAD_RIDGES,READ_RIDGES,ACC_RIDGES,BLCA_RIDGES,DLBC_RIDGES];

const COLOR_STOPS: [number, string][] = [[0,"#EF1A1F"],[0.5,"#C5124E"],[0.75,"#7D1465"],[1,"#1F1C5B"]];

function hexRgb(h: string) {
  const n = parseInt(h.slice(1), 16);
  return [(n >> 16) & 255, (n >> 8) & 255, n & 255];
}
function colorAt(t: number) {
  t = Math.max(0, Math.min(1, t));
  for (let i = 1; i < COLOR_STOPS.length; i++) {
    const [o1, c1] = COLOR_STOPS[i];
    const [o0, c0] = COLOR_STOPS[i - 1];
    if (t <= o1) {
      const f = (t - o0) / (o1 - o0);
      const a = hexRgb(c0), b = hexRgb(c1);
      const r = a.map((v, k) => Math.round(v + (b[k] - v) * f));
      return `rgb(${r[0]},${r[1]},${r[2]})`;
    }
  }
  return COLOR_STOPS[COLOR_STOPS.length - 1][1];
}

export default function App() {
  const ref = useRef<HTMLDivElement>(null);
  useEffect(() => {
    const chart = echarts.init(ref.current as HTMLDivElement, null, { renderer: "svg" });
    const grid: any[] = [], xAxis: any[] = [], yAxis: any[] = [], series: any[] = [], graphic: any[] = [], title: any[] = [];

    NAMES.forEach((name, i) => {
      const [gl, gt, gw, gh] = BOXES[i];
      const terms = TERMS[i];
      const ridges = RIDGES[i];
      const rows = terms.map((_, r) => r);
      const padjRaw = PADJS[i];
      const uniform = typeof padjRaw === "number";
      const padj: number[] = uniform ? rows.map(() => padjRaw) : padjRaw;
      const lo = Math.min(...padj), hi = Math.max(...padj);
      const [xmin, xmax] = X_RANGES[i];
      const span = xmax - xmin;
      const xLo = xmin + 0.045 * span, xHi = xmax - 0.045 * span;
      const [ymin, ymax] = Y_RANGES[i];
      const ticks = X_TICKS[i], labels = X_LABELS[i];

      grid.push({ left: gl, top: gt, width: gw, height: gh, show: true, borderColor: "#333", borderWidth: 1.2, backgroundColor: "rgba(0,0,0,0)" });
      xAxis.push({
        type: "value", gridIndex: i, min: xmin, max: xmax,
        axisLine: { show: false }, splitLine: { show: false },
        axisTick: { show: true, customValues: ticks, length: 1.8, lineStyle: { color: "#333", width: 0.6 } },
        axisLabel: {
          customValues: ticks, margin: 2.2, fontSize: 5.4, fontFamily: FONT, color: "#333",
          formatter: (v: number) => { const k = ticks.findIndex((t) => Math.abs(t - v) < 1e-9); return k >= 0 ? labels[k] : ""; },
        },
      });
      yAxis.push({
        type: "value", gridIndex: i, inverse: true, min: ymin, max: ymax,
        axisLine: { show: false }, splitLine: { show: false },
        axisTick: { show: true, customValues: rows, length: 1.8, lineStyle: { color: "#333", width: 0.6 } },
        axisLabel: {
          customValues: rows, margin: 3.2, fontSize: 5.6, lineHeight: 5.8, fontFamily: FONT, color: "#333",
          formatter: (v: number) => terms[Math.round(v)] || "",
        },
      });

      // vertical dotted gridlines
      series.push({
        type: "custom", xAxisIndex: i, yAxisIndex: i, z: 1, silent: true,
        data: X_GRID[i].map((x) => [x, ymin]),
        renderItem: (params: any, api: any) => {
          const x = api.value(0);
          const p0 = api.coord([x, ymin]);
          const p1 = api.coord([x, ymax]);
          return { type: "line", shape: { x1: p0[0], y1: p0[1], x2: p1[0], y2: p1[1] }, style: { stroke: "#9a9a9a", lineWidth: 0.7, lineDash: [1, 8.2] } };
        },
      });

      // ridges
      series.push({
        type: "custom", xAxisIndex: i, yAxisIndex: i, z: 2, silent: true,
        data: rows.map((r) => [xLo, r]),
        renderItem: (params: any, api: any) => {
          const r = params.dataIndex;
          const k = ridges[r];
          const pts: number[][] = [api.coord([xLo, r])];
          for (let j = 0; j < k.length; j += 2) pts.push(api.coord([k[j], r - k[j + 1]]));
          pts.push(api.coord([xHi, r]));
          const base = pts[0];
          const t = uniform || hi === lo ? 0.5 : (padj[r] - lo) / (hi - lo);
          return {
            type: "polyline", z2: r,
            shape: { points: pts, smooth: 0.35, smoothConstraint: [[base[0], base[1]], [base[0], base[1]]] },
            style: { fill: colorAt(t), stroke: "#111", lineWidth: 0.95 },
          };
        },
      });

      // panel title
      title.push({
        text: name, left: TITLE_XY[i][0], top: TITLE_XY[i][1] - 3, textAlign: "center", padding: 0,
        textStyle: { fontSize: 5.8, fontFamily: FONT, fontWeight: "normal", color: "#222" },
      });

      // colour bar legend
      const [bx, by, bw, bh] = LEG_BOXES[i];
      graphic.push({
        type: "text", x: bx, y: by - 4.2, silent: true,
        style: { text: "p.adjust", fontSize: 5.5, fontFamily: FONT, fill: "#222", textAlign: "left", textVerticalAlign: "middle" },
      });
      const fill = uniform
        ? colorAt(0.5)
        : new echarts.graphic.LinearGradient(0, 0, 0, 1, COLOR_STOPS.map(([o, c]) => ({ offset: o, color: c })));
      graphic.push({ type: "rect", silent: true, shape: { x: bx, y: by, width: bw, height: bh }, style: { fill } });
      LEG_TICKS[i].forEach((v, j) => {
        const ty = uniform ? by + bh / 2 : by + ((v - lo) / (hi - lo)) * bh;
        graphic.push({ type: "line", silent: true, shape: { x1: bx, y1: ty, x2: bx + bw * 0.22, y2: ty }, style: { stroke: "#fff", lineWidth: 0.6 } });
        graphic.push({ type: "line", silent: true, shape: { x1: bx + bw * 0.78, y1: ty, x2: bx + bw, y2: ty }, style: { stroke: "#fff", lineWidth: 0.6 } });
        graphic.push({
          type: "text", silent: true, x: bx + bw + 1.8, y: ty,
          style: { text: LEG_LABELS[i][j], fontSize: 4.9, fontFamily: FONT, fill: "#333", textAlign: "left", textVerticalAlign: "middle" },
        });
      });
    });

    chart.setOption({
      animation: false,
      backgroundColor: "#fff",
      title, grid, xAxis, yAxis, series, graphic,
    });
    return () => chart.dispose();
  }, []);
  return <div ref={ref} style={{ position: "absolute", left: 0, top: 0, width: 622, height: 843 }} />;
}
